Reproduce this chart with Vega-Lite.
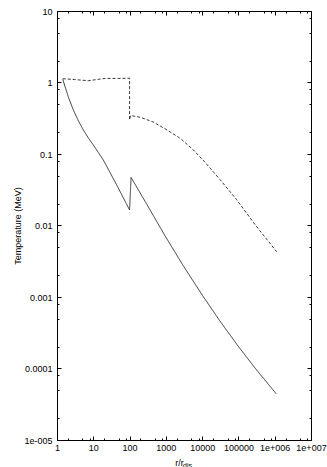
{
  "$schema": "https://vega.github.io/schema/vega-lite/v6.json",
  "width": 254,
  "height": 429,
  "autosize": "none",
  "padding": {"left": 57, "top": 11, "right": 16, "bottom": 27},
  "background": "white",
  "config": {
    "view": {"stroke": null},
    "font": "Liberation Sans",
    "axis": {
      "grid": false,
      "domainColor": "#000000",
      "domainWidth": 1,
      "tickColor": "#000000",
      "tickWidth": 1,
      "labelColor": "#000000",
      "labelFontSize": 9,
      "labelFont": "Liberation Sans",
      "labelOverlap": false,
      "labelFlush": false,
      "titleFont": "Liberation Sans",
      "titleFontWeight": "normal",
      "titleColor": "#000000"
    }
  },
  "data": {
    "values": [
      {"series": "solid", "i": 1, "r": 1.44, "T": 1.11},
      {"series": "solid", "i": 2, "r": 2.05, "T": 0.629},
      {"series": "solid", "i": 3, "r": 2.82, "T": 0.412},
      {"series": "solid", "i": 4, "r": 3.87, "T": 0.292},
      {"series": "solid", "i": 5, "r": 5.31, "T": 0.217},
      {"series": "solid", "i": 6, "r": 7.3, "T": 0.168},
      {"series": "solid", "i": 7, "r": 10, "T": 0.134},
      {"series": "solid", "i": 8, "r": 18.9, "T": 0.0824},
      {"series": "solid", "i": 9, "r": 44, "T": 0.037},
      {"series": "solid", "i": 10, "r": 100, "T": 0.0165},
      {"series": "solid", "i": 11, "r": 110, "T": 0.047},
      {"series": "solid", "i": 12, "r": 300, "T": 0.0197},
      {"series": "solid", "i": 13, "r": 1000, "T": 0.00686},
      {"series": "solid", "i": 14, "r": 3000, "T": 0.00275},
      {"series": "solid", "i": 15, "r": 10000, "T": 0.00107},
      {"series": "solid", "i": 16, "r": 30000, "T": 0.000471},
      {"series": "solid", "i": 17, "r": 100000, "T": 0.000203},
      {"series": "solid", "i": 18, "r": 300000, "T": 0.0000986},
      {"series": "solid", "i": 19, "r": 1100000, "T": 0.0000443},
      {"series": "dashed", "i": 1, "r": 1.44, "T": 1.13},
      {"series": "dashed", "i": 2, "r": 3, "T": 1.10},
      {"series": "dashed", "i": 3, "r": 7.3, "T": 1.06},
      {"series": "dashed", "i": 4, "r": 21, "T": 1.14},
      {"series": "dashed", "i": 5, "r": 60, "T": 1.14},
      {"series": "dashed", "i": 6, "r": 100, "T": 1.15},
      {"series": "dashed", "i": 7, "r": 100, "T": 0.30},
      {"series": "dashed", "i": 8, "r": 106, "T": 0.345},
      {"series": "dashed", "i": 9, "r": 200, "T": 0.326},
      {"series": "dashed", "i": 10, "r": 450, "T": 0.28},
      {"series": "dashed", "i": 11, "r": 1000, "T": 0.222},
      {"series": "dashed", "i": 12, "r": 2000, "T": 0.178},
      {"series": "dashed", "i": 13, "r": 2700, "T": 0.16},
      {"series": "dashed", "i": 14, "r": 5500, "T": 0.116},
      {"series": "dashed", "i": 15, "r": 10700, "T": 0.082},
      {"series": "dashed", "i": 16, "r": 31000, "T": 0.044},
      {"series": "dashed", "i": 17, "r": 89000, "T": 0.023},
      {"series": "dashed", "i": 18, "r": 300000, "T": 0.0100},
      {"series": "dashed", "i": 19, "r": 1130000, "T": 0.0043}
    ]
  },
  "layer": [
    {
      "mark": {"type": "line", "color": "#222222", "strokeWidth": 0.9},
      "encoding": {
        "x": {
          "field": "r", "type": "quantitative",
          "scale": {"type": "log", "domain": [1, 10000000], "nice": false},
          "axis": {
            "orient": "bottom",
            "values": [1, 2, 5, 8, 10, 20, 50, 80, 100, 200, 500, 800, 1000, 2000, 5000, 8000, 10000, 20000, 50000, 80000, 100000, 200000, 500000, 800000, 1000000, 2000000, 5000000, 8000000, 10000000],
            "labelExpr": "datum.value == 1000000 ? '1e+006' : datum.value == 10000000 ? '1e+007' : (indexof([1, 10, 100, 1000, 10000, 100000], datum.value) >= 0 ? '' + datum.value : '')",
            "tickSize": {"condition": {"test": "indexof([1, 10, 100, 1000, 10000, 100000, 1000000, 10000000], datum.value) >= 0", "value": -4}, "value": -2},
            "labelPadding": 7,
            "title": "r/r",
            "titleFontSize": 9,
            "titleX": 122,
            "titleY": 22,
            "titleBaseline": "middle"
          }
        },
        "y": {
          "field": "T", "type": "quantitative",
          "scale": {"type": "log", "domain": [0.00001, 10], "nice": false},
          "axis": {
            "orient": "left",
            "values": [0.00001, 0.00002, 0.00005, 0.00008, 0.0001, 0.0002, 0.0005, 0.0008, 0.001, 0.002, 0.005, 0.008, 0.01, 0.02, 0.05, 0.08, 0.1, 0.2, 0.5, 0.8, 1, 2, 5, 8, 10],
            "labelExpr": "datum.value == 0.00001 ? '1e-005' : (indexof([0.0001, 0.001, 0.01, 0.1, 1, 10], datum.value) >= 0 ? '' + datum.value : '')",
            "tickSize": {"condition": {"test": "indexof([0.00001, 0.0001, 0.001, 0.01, 0.1, 1, 10], datum.value) >= 0", "value": -4}, "value": -2},
            "labelPadding": 9,
            "title": "Temperature (MeV)",
            "titleFontSize": 9,
            "titlePadding": 1
          }
        },
        "order": {"field": "i", "type": "quantitative"},
        "detail": {"field": "series"},
        "strokeDash": {
          "field": "series", "type": "nominal",
          "scale": {"domain": ["solid", "dashed"], "range": [[1, 0], [3, 2]]},
          "legend": null
        }
      }
    },
    {
      "mark": {"type": "line", "opacity": 0},
      "encoding": {
        "x": {
          "field": "r", "type": "quantitative",
          "scale": {"type": "log", "domain": [1, 10000000], "nice": false},
          "axis": {
            "orient": "top",
            "values": [1, 2, 5, 8, 10, 20, 50, 80, 100, 200, 500, 800, 1000, 2000, 5000, 8000, 10000, 20000, 50000, 80000, 100000, 200000, 500000, 800000, 1000000, 2000000, 5000000, 8000000, 10000000],
            "labels": false,
            "title": null,
            "tickSize": {"condition": {"test": "indexof([1, 10, 100, 1000, 10000, 100000, 1000000, 10000000], datum.value) >= 0", "value": -4}, "value": -2}
          }
        },
        "y": {
          "field": "T", "type": "quantitative",
          "scale": {"type": "log", "domain": [0.00001, 10], "nice": false},
          "axis": {
            "orient": "right",
            "values": [0.00001, 0.00002, 0.00005, 0.00008, 0.0001, 0.0002, 0.0005, 0.0008, 0.001, 0.002, 0.005, 0.008, 0.01, 0.02, 0.05, 0.08, 0.1, 0.2, 0.5, 0.8, 1, 2, 5, 8, 10],
            "labels": false,
            "title": null,
            "tickSize": {"condition": {"test": "indexof([0.00001, 0.0001, 0.001, 0.01, 0.1, 1, 10], datum.value) >= 0", "value": -4}, "value": -2}
          }
        },
        "order": {"field": "i", "type": "quantitative"},
        "detail": {"field": "series"}
      }
    },
    {
      "mark": {"type": "line", "opacity": 0},
      "encoding": {
        "x": {
          "field": "r", "type": "quantitative",
          "scale": {"type": "log", "domain": [1, 10000000], "nice": false},
          "axis": {
            "orient": "bottom",
            "domain": false,
            "ticks": false,
            "labels": false,
            "title": "dis",
            "titleFontSize": 7,
            "titleX": 130,
            "titleY": 25,
            "titleBaseline": "middle"
          }
        },
        "y": {
          "field": "T", "type": "quantitative",
          "scale": {"type": "log", "domain": [0.00001, 10], "nice": false},
          "axis": null
        },
        "order": {"field": "i", "type": "quantitative"},
        "detail": {"field": "series"}
      }
    }
  ],
  "resolve": {"axis": {"x": "independent", "y": "independent"}}
}
